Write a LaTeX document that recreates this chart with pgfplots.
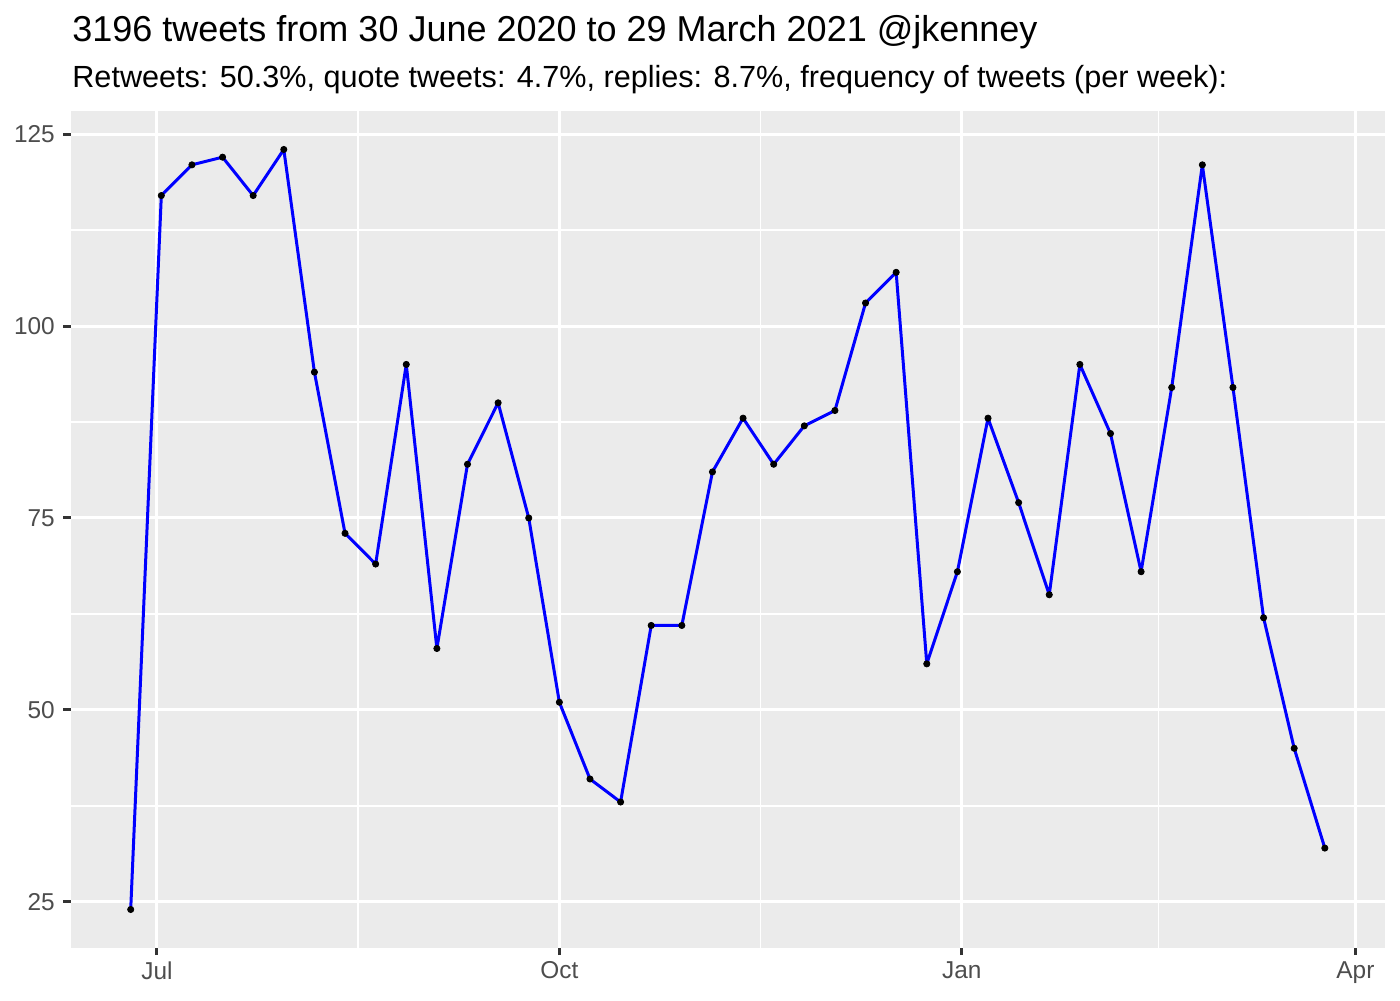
\documentclass[border=0pt]{standalone}
\usepackage{pgfplots}
\usepackage{pgfplotstable}
\pgfplotsset{compat=1.18}
\usepackage{fontspec}
\setmainfont{Liberation Sans}
\definecolor{panelgray}{HTML}{EBEBEB}
\definecolor{tickgray}{HTML}{4D4D4D}
\definecolor{tickmark}{HTML}{333333}
% x = days since 1 July 2020 (weekly bins)
\pgfplotstableread{
day n
-6 24
1 117
8 121
15 122
22 117
29 123
36 94
43 73
50 69
57 95
64 58
71 82
78 90
85 75
92 51
99 41
106 38
113 61
120 61
127 81
134 88
141 82
148 87
155 89
162 103
169 107
176 56
183 68
190 88
197 77
204 65
211 95
218 86
225 68
232 92
239 121
246 92
253 62
260 45
267 32
}\tweets
\begin{document}
\begin{tikzpicture}
\useasboundingbox (-35.5pt,-26.25pt) rectangle (664.5pt,473.75pt);
\begin{axis}[
  at={(0pt,0pt)}, anchor=south west,
  scale only axis, width=656.75pt, height=418pt,
  xmin=-19.65, xmax=280.65, ymin=19.05, ymax=127.95,
  axis background/.style={fill=panelgray},
  axis line style={draw=none},
  xtick={0,92,184,274}, xticklabels={Jul,Oct,Jan,Apr},
  minor xtick={46,138,229},
  ytick={25,50,75,100,125},
  minor ytick={37.5,62.5,87.5,112.5},
  grid=both,
  major grid style={white, line width=1.48pt},
  minor grid style={white, line width=0.74pt},
  tick align=outside, xtick pos=bottom, ytick pos=left,
  major tick length=3.82pt, minor tick length=0pt,
  major tick style={tickmark, line width=1.48pt},
  /pgf/number format/assume math mode=true,
  tick label style={font=\fontsize{12.2}{14}\selectfont, text=tickgray},
  xticklabel style={inner sep=0pt, anchor=north, yshift=-2.9pt},
  yticklabel style={inner sep=0pt, anchor=east, xshift=-4.1pt},
  clip=true,
]
\addplot[blue, line width=1.5pt, line join=round, line cap=round, no marks] table[x=day, y=n] {\tweets};
\addplot[only marks, mark=*, mark size=1.55pt, black] table[x=day, y=n] {\tweets};
\end{axis}
\node[anchor=base west, inner sep=0pt, font=\fontsize{18}{21}\selectfont] at (0.5pt,452.9pt) {3196 tweets from 30 June 2020 to 29 March 2021 @jkenney};
\node[anchor=base west, inner sep=0pt, font=\fontsize{15.3}{18}\selectfont] at (0.5pt,430.1pt) {Retweets: 50.3\%, quote tweets: 4.7\%, replies: 8.7\%, frequency of tweets (per week):};
\end{tikzpicture}
\end{document}
